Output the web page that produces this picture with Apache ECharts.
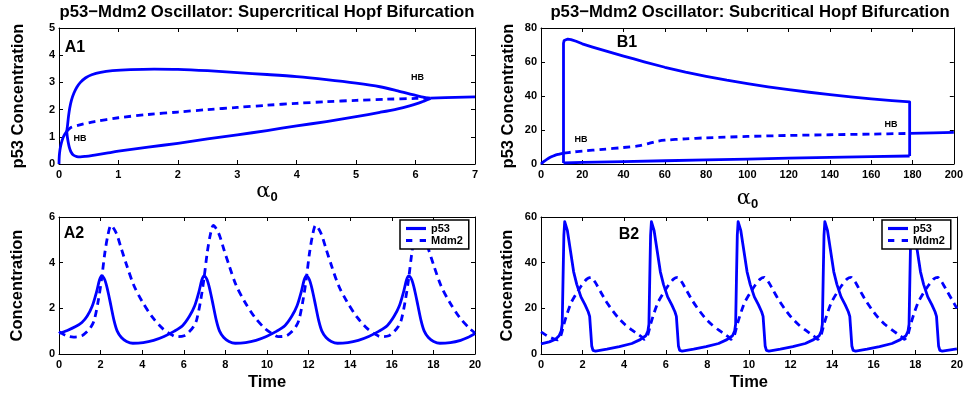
<!DOCTYPE html>
<html><head><meta charset="utf-8">
<script src="https://cdn.jsdelivr.net/npm/echarts@6/dist/echarts.min.js"></script>
<style>html,body{margin:0;padding:0;background:#fff}#c{width:966px;height:398px}</style>
</head><body><div id="c"></div>
<script>
// ---------- tick labels ----------
const a1XTicks = [0,1,2,3,4,5,6,7];
const a1YTicks = [0,1,2,3,4,5];
const b1XTicks = [0,20,40,60,80,100,120,140,160,180,200];
const b1YTicks = [0,20,40,60,80];
const a2XTicks = [0,2,4,6,8,10,12,14,16,18,20];
const a2YTicks = [0,2,4,6];
const b2XTicks = [0,2,4,6,8,10,12,14,16,18,20];
const b2YTicks = [0,20,40,60];

// ---------- A1: supercritical Hopf (alpha0, p53) ----------
const a1StableLeft = [[0,0],[0.005,0.3],[0.015,0.5],[0.03,0.68],[0.05,0.85],[0.075,1.0],[0.1,1.1],[0.13,1.2]];
const a1CycleMax = [[0.13,1.2],[0.145,1.45],[0.16,1.75],[0.18,2.05],[0.21,2.35],[0.25,2.6],[0.3,2.82],[0.36,3.0],[0.45,3.17],[0.55,3.28],[0.7,3.37],[0.9,3.43],[1.2,3.47],[1.6,3.49],[2.0,3.48],[2.5,3.43],[3.0,3.36],[3.5,3.29],[4.0,3.21],[4.5,3.1],[5.0,2.97],[5.4,2.84],[5.7,2.69],[5.95,2.55],[6.1,2.47],[6.2,2.43],[6.25,2.41]];
const a1CycleMin = [[0.13,1.2],[0.14,1.0],[0.155,0.8],[0.175,0.6],[0.2,0.45],[0.24,0.33],[0.3,0.27],[0.36,0.26],[0.45,0.28],[0.6,0.33],[0.8,0.4],[1.0,0.47],[1.5,0.62],[2.0,0.76],[2.5,0.92],[3.0,1.07],[3.5,1.23],[4.0,1.4],[4.5,1.56],[5.0,1.74],[5.4,1.9],[5.7,2.03],[5.9,2.14],[6.05,2.24],[6.15,2.32],[6.22,2.38],[6.25,2.41]];
const a1Unstable = [[0.13,1.2],[0.2,1.34],[0.35,1.44],[0.6,1.56],[1.0,1.7],[1.5,1.82],[2.0,1.91],[2.5,2.0],[3.0,2.08],[3.5,2.16],[4.0,2.23],[4.5,2.29],[5.0,2.34],[5.5,2.38],[6.0,2.41],[6.25,2.42]];
const a1StableRight = [[6.25,2.42],[6.5,2.44],[7,2.47]];

// ---------- B1: subcritical Hopf (alpha0, p53) ----------
const b1StableLeft = [[0,0],[1,1.1],[2,2.0],[3.5,3.2],[5,4.2],[6.7,5.1],[8.5,5.7],[10.9,6.4]];
const b1CycleMax = [[10.9,0.6],[10.9,71],[11.2,72.6],[12,73.3],[13,73.5],[14.5,73.2],[17,72.2],[20,70.7],[25,68.8],[30,67],[35,65.2],[40,63.5],[45,61.8],[50,60.1],[60,56.9],[70,54.1],[80,51.6],[90,49.3],[100,47.3],[110,45.4],[120,43.7],[130,42.2],[140,40.8],[150,39.5],[160,38.3],[170,37.3],[178.6,36.5],[178.6,4.7]];
const b1CycleMin = [[178.6,4.7],[160,4.3],[140,3.9],[120,3.4],[100,2.9],[80,2.4],[60,1.9],[40,1.4],[20,0.9],[10.9,0.6]];
const b1Unstable = [[10.9,6.4],[15,7.0],[20,7.6],[30,8.6],[40,9.7],[47,10.6],[52,12.0],[56,13.3],[60,14.0],[70,14.8],[80,15.4],[100,16.2],[120,16.8],[140,17.2],[160,17.6],[178.6,18.0]];
const b1StableRight = [[178.6,18.0],[190,18.3],[200,18.6]];

// ---------- A2: time courses (time, concentration) ----------
const a2P53 = [[0,0.9],[0.4,1.03],[0.8,1.2],[1.1,1.38],[1.35,1.65],[1.6,2.1],[1.8,2.7],[1.95,3.25],[2.05,3.42],[2.2,3.25],[2.35,2.75],[2.5,2.1],[2.65,1.45],[2.8,1.0],[3.0,0.72],[3.25,0.55],[3.55,0.47],[4.05,0.5],[4.55,0.6],[5.05,0.77],[5.55,1.0],[5.95,1.25],[6.27,1.65],[6.52,2.1],[6.72,2.7],[6.87,3.25],[6.97,3.42],[7.12,3.25],[7.27,2.75],[7.42,2.1],[7.57,1.45],[7.72,1.0],[7.92,0.72],[8.17,0.55],[8.47,0.47],[8.97,0.5],[9.47,0.6],[9.97,0.77],[10.47,1.0],[10.87,1.25],[11.19,1.65],[11.44,2.1],[11.64,2.7],[11.79,3.25],[11.89,3.42],[12.04,3.25],[12.19,2.75],[12.34,2.1],[12.49,1.45],[12.64,1.0],[12.84,0.72],[13.09,0.55],[13.39,0.47],[13.89,0.5],[14.39,0.6],[14.89,0.77],[15.39,1.0],[15.79,1.25],[16.11,1.65],[16.36,2.1],[16.56,2.7],[16.71,3.25],[16.81,3.42],[16.96,3.25],[17.11,2.75],[17.26,2.1],[17.41,1.45],[17.56,1.0],[17.76,0.72],[18.01,0.55],[18.31,0.47],[18.81,0.5],[19.31,0.6],[19.65,0.72],[20,0.9]];
const a2Mdm2 = [[0,0.98],[0.35,0.8],[0.7,0.74],[1.1,0.8],[1.35,0.98],[1.55,1.2],[1.7,1.5],[1.9,2.4],[2.05,3.3],[2.2,4.4],[2.35,5.2],[2.5,5.63],[2.75,5.3],[3.0,4.6],[3.25,3.9],[3.6,3.0],[4.0,2.3],[4.5,1.6],[5.0,1.1],[5.4,0.85],[5.62,0.76],[6.02,0.8],[6.27,0.98],[6.47,1.2],[6.62,1.5],[6.82,2.4],[6.97,3.3],[7.12,4.4],[7.27,5.2],[7.42,5.63],[7.67,5.3],[7.92,4.6],[8.17,3.9],[8.52,3.0],[8.92,2.3],[9.42,1.6],[9.92,1.1],[10.32,0.85],[10.54,0.76],[10.94,0.8],[11.19,0.98],[11.39,1.2],[11.54,1.5],[11.74,2.4],[11.89,3.3],[12.04,4.4],[12.19,5.2],[12.34,5.63],[12.59,5.3],[12.84,4.6],[13.09,3.9],[13.44,3.0],[13.84,2.3],[14.34,1.6],[14.84,1.1],[15.24,0.85],[15.46,0.76],[15.86,0.8],[16.11,0.98],[16.31,1.2],[16.46,1.5],[16.66,2.4],[16.81,3.3],[16.96,4.4],[17.11,5.2],[17.26,5.63],[17.51,5.3],[17.76,4.6],[18.01,3.9],[18.36,3.0],[18.76,2.3],[19.26,1.6],[19.76,1.1],[20,0.92]];

// ---------- B2: time courses (time, concentration) ----------
const b2P53 = [[0,4.4],[0.4,5.3],[0.7,6.5],[0.87,8.0],[0.97,10.0],[1.02,13],[1.06,33],[1.1,52],[1.14,58],[1.17,58.6],[1.27,54],[1.42,45],[1.57,36],[1.72,30.5],[1.92,25],[2.12,21.5],[2.27,18.5],[2.34,16.5],[2.39,10],[2.44,3.5],[2.5,1.6],[2.62,1.3],[3.17,2.1],[3.77,3.2],[4.37,4.6],[4.77,6.3],[5.04,8.0],[5.14,10.0],[5.19,13],[5.23,33],[5.27,52],[5.31,58],[5.34,58.6],[5.44,54],[5.59,45],[5.74,36],[5.89,30.5],[6.09,25],[6.29,21.5],[6.44,18.5],[6.51,16.5],[6.56,10],[6.61,3.5],[6.67,1.6],[6.79,1.3],[7.34,2.1],[7.94,3.2],[8.54,4.6],[8.94,6.3],[9.21,8.0],[9.31,10],[9.36,13],[9.4,33],[9.44,52],[9.48,58],[9.51,58.6],[9.61,54],[9.76,45],[9.91,36],[10.06,30.5],[10.26,25],[10.46,21.5],[10.61,18.5],[10.68,16.5],[10.73,10],[10.78,3.5],[10.84,1.6],[10.96,1.3],[11.51,2.1],[12.11,3.2],[12.71,4.6],[13.11,6.3],[13.38,8.0],[13.48,10],[13.53,13],[13.57,33],[13.61,52],[13.65,58],[13.68,58.6],[13.78,54],[13.93,45],[14.08,36],[14.23,30.5],[14.43,25],[14.63,21.5],[14.78,18.5],[14.85,16.5],[14.9,10],[14.95,3.5],[15.01,1.6],[15.13,1.3],[15.68,2.1],[16.28,3.2],[16.88,4.6],[17.28,6.3],[17.55,8.0],[17.65,10],[17.7,13],[17.74,33],[17.78,52],[17.82,58],[17.85,58.6],[17.95,54],[18.1,45],[18.25,36],[18.4,30.5],[18.6,25],[18.8,21.5],[18.95,18.5],[19.02,16.5],[19.07,10],[19.12,3.5],[19.18,1.6],[19.3,1.3],[20,2.2]];
const b2Mdm2 = [[0,9.7],[0.2,8.5],[0.45,7.2],[0.65,6.5],[0.8,6.2],[0.95,8.0],[1.1,13],[1.25,17.5],[1.45,22.5],[1.7,26.5],[1.95,30],[2.2,32.8],[2.4,33.6],[2.6,31.5],[2.85,27.5],[3.1,23.5],[3.4,19.5],[3.7,16],[4.05,12.8],[4.4,10.3],[4.7,8.4],[4.88,7.2],[4.97,6.4],[5.12,8.0],[5.27,13],[5.42,17.5],[5.62,22.5],[5.87,26.5],[6.12,30],[6.37,32.8],[6.57,33.6],[6.77,31.5],[7.02,27.5],[7.27,23.5],[7.57,19.5],[7.87,16],[8.22,12.8],[8.57,10.3],[8.87,8.4],[9.05,7.2],[9.14,6.4],[9.29,8.0],[9.44,13],[9.59,17.5],[9.79,22.5],[10.04,26.5],[10.29,30],[10.54,32.8],[10.74,33.6],[10.94,31.5],[11.19,27.5],[11.44,23.5],[11.74,19.5],[12.04,16],[12.39,12.8],[12.74,10.3],[13.04,8.4],[13.22,7.2],[13.31,6.4],[13.46,8.0],[13.61,13],[13.76,17.5],[13.96,22.5],[14.21,26.5],[14.46,30],[14.71,32.8],[14.91,33.6],[15.11,31.5],[15.36,27.5],[15.61,23.5],[15.91,19.5],[16.21,16],[16.56,12.8],[16.91,10.3],[17.21,8.4],[17.39,7.2],[17.48,6.4],[17.63,8.0],[17.78,13],[17.93,17.5],[18.13,22.5],[18.38,26.5],[18.63,30],[18.88,32.8],[19.08,33.6],[19.28,31.5],[19.53,27.5],[19.78,23.5],[20,20.0]];

// ---------- texts ----------
const titles = ['p53\u2212Mdm2 Oscillator: Supercritical Hopf Bifurcation', 'p53\u2212Mdm2 Oscillator: Subcritical Hopf Bifurcation'];
const panelLabels = ['A1','B1','A2','B2'];
const hbLabel = 'HB';
const legendNames = ['p53','Mdm2'];

// ---------- styling / layout ----------
const FONT = 'Liberation Sans, Arial, Helvetica, sans-serif';
const BLUE = '#0000ff';
const LW = 2.8;
const DASH = [7,5];
const ICON_SOLID = 'path://M0,0H19V3H0Z';
const ICON_DASH = 'path://M0,0H6V3H0Z M13,0H19V3H13Z';
const grids = [
  {left:59, top:28, width:416, height:136},
  {left:541, top:28, width:417, height:136},
  {left:59, top:217, width:416, height:137},
  {left:541, top:217, width:417, height:137}
];
const alphaName = '{a|\u03b1}{s|0}';
const alphaRich = {
  a:{fontFamily:'DejaVu Serif', fontSize:21, color:'#000', lineHeight:24},
  s:{fontFamily:FONT, fontWeight:'bold', fontSize:13, color:'#000', padding:[12,0,0,0]}
};

function mkAxes(gi, xt, yt, xName, xGap, xRich, yName, yGap) {
  const base = (ticks) => ({
    type:'value', gridIndex:gi, min:ticks[0], max:ticks[ticks.length-1], interval:ticks[1]-ticks[0],
    axisLine:{show:true, onZero:false, lineStyle:{color:'#000', width:1}},
    axisTick:{show:true, inside:true, length:4, lineStyle:{color:'#000', width:1}},
    splitLine:{show:false}
  });
  const lbl = {show:true, color:'#000', fontFamily:FONT, fontWeight:'bold', fontSize:11, margin:5};
  const xs = [
    Object.assign(base(xt), {position:'bottom', axisLabel:lbl, name:xName, nameLocation:'middle', nameGap:xGap,
      nameTextStyle: xRich ? {rich:xRich, align:'center'} : {color:'#000', fontFamily:FONT, fontWeight:'bold', fontSize:16.5}}),
    Object.assign(base(xt), {position:'top', axisLabel:{show:false}})
  ];
  const ys = [
    Object.assign(base(yt), {position:'left', axisLabel:Object.assign({}, lbl, {margin:4}), name:yName, nameLocation:'middle', nameGap:yGap,
      nameTextStyle:{color:'#000', fontFamily:FONT, fontWeight:'bold', fontSize:16.5}}),
    Object.assign(base(yt), {position:'right', axisLabel:{show:false}})
  ];
  return {xs, ys};
}

const ax = [
  mkAxes(0, a1XTicks, a1YTicks, alphaName, -2, alphaRich, 'p53 Concentration', 32),
  mkAxes(1, b1XTicks, b1YTicks, alphaName, 22, alphaRich, 'p53 Concentration', 24),
  mkAxes(2, a2XTicks, a2YTicks, 'Time', 20, null, 'Concentration', 33),
  mkAxes(3, b2XTicks, b2YTicks, 'Time', 20, null, 'Concentration', 25)
];
const xAxis = [], yAxis = [];
ax.forEach(a => { xAxis.push(...a.xs); yAxis.push(...a.ys); });

function ser(gi, data, dashed, name, smooth) {
  return {
    type:'line', name:name || undefined, xAxisIndex:2*gi, yAxisIndex:2*gi, data:data,
    symbol:'none', showSymbol:false, smooth:smooth || false, silent:true,
    lineStyle:{color:BLUE, width:LW, type: dashed ? DASH : 'solid', cap:'butt', join:'round'},
    itemStyle:{color:BLUE}, z:2
  };
}

const series = [
  ser(0, a1StableLeft, false, null, 0.3),
  ser(0, a1CycleMax, false, null, 0.3),
  ser(0, a1CycleMin, false, null, 0.3),
  ser(0, a1Unstable, true, null, 0.3),
  ser(0, a1StableRight, false, null, 0),
  ser(1, b1StableLeft, false, null, 0.3),
  ser(1, b1CycleMax, false, null, 0),
  ser(1, b1CycleMin, false, null, 0),
  ser(1, b1Unstable, true, null, 0.3),
  ser(1, b1StableRight, false, null, 0),
  ser(2, a2P53, false, legendNames[0], 0.3),
  ser(2, a2Mdm2, true, legendNames[1], 0.3),
  ser(3, b2P53, false, legendNames[0], 0),
  ser(3, b2Mdm2, true, legendNames[1], 0.2)
];

function legendAt(left, top) {
  return {
    data:[{name:legendNames[0], icon:ICON_SOLID}, {name:legendNames[1], icon:ICON_DASH}],
    orient:'vertical', left:left, top:top,
    backgroundColor:'#fff', borderColor:'#000', borderWidth:1.5, borderRadius:0,
    padding:[3,6,3,6], itemWidth:20, itemHeight:8, itemGap:1, selectedMode:false,
    itemStyle:{color:BLUE, borderWidth:0},
    textStyle:{color:'#000', fontFamily:FONT, fontWeight:'bold', fontSize:11, lineHeight:11},
    z:10
  };
}

function txt(str, x, y, size) {
  return {type:'text', x:x, y:y, z:20, silent:true,
    style:{text:str, fill:'#000', fontFamily:FONT, fontWeight:'bold', fontSize:size, align:'center', verticalAlign:'middle'}};
}

const graphic = [
  txt(titles[0], 267, 12, 16.7),
  txt(titles[1], 750, 12, 16.7),
  txt(panelLabels[0], 75, 48, 16),
  txt(panelLabels[1], 627, 43, 16),
  txt(panelLabels[2], 74, 234, 16),
  txt(panelLabels[3], 629, 234.5, 16),
  txt(hbLabel, 417.5, 77.5, 9),
  txt(hbLabel, 80, 139, 9),
  txt(hbLabel, 581, 140, 9),
  txt(hbLabel, 891, 125, 9)
];

const chart = echarts.init(document.getElementById('c'), null, {renderer:'canvas'});
chart.setOption({
  animation:false,
  backgroundColor:'#fff',
  grid:grids,
  xAxis:xAxis,
  yAxis:yAxis,
  legend:[legendAt(400, 220), legendAt(882, 220)],
  series:series,
  graphic:graphic
});
</script></body></html>
